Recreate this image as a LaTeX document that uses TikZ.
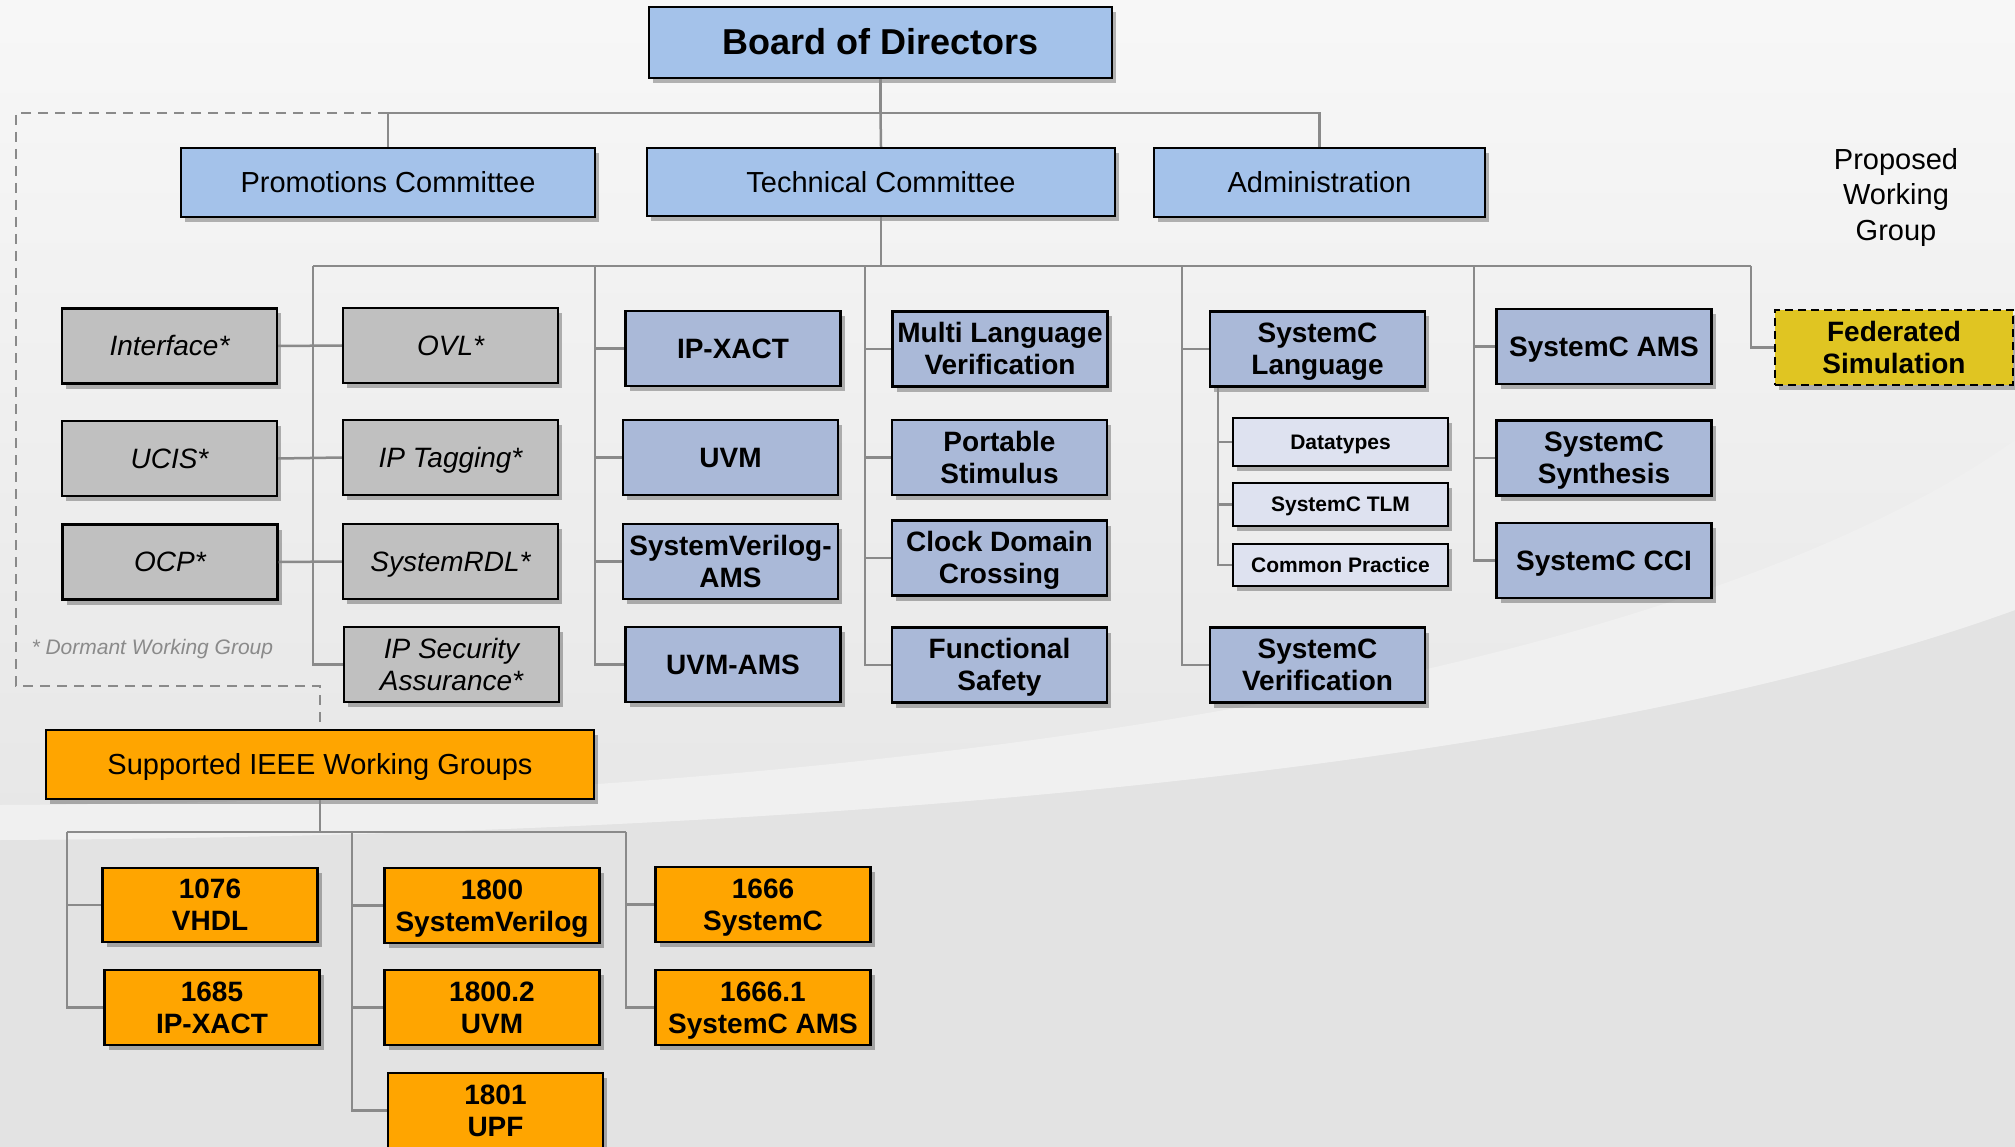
\documentclass[tikz,border=0pt]{standalone}
\usepackage{fontspec}
\setmainfont{Liberation Sans}
\usetikzlibrary{shadows}
\definecolor{topblue}{HTML}{A4C2EA}
\definecolor{techblue}{HTML}{AAB9D8}
\definecolor{dormgray}{HTML}{C0C0C0}
\definecolor{sublight}{HTML}{DEE2F0}
\definecolor{ieeeorange}{HTML}{FFA500}
\definecolor{fedyellow}{HTML}{E0C522}
\definecolor{linegray}{HTML}{8A8A8A}
\newcommand{\ms}{\rule[-5.9pt]{0pt}{31.2pt}}
\tikzset{
  box/.style={draw=black, line width=2.4pt, align=center, inner sep=0pt,
    minimum width=215pt, minimum height=75pt,
    drop shadow={shadow xshift=4pt, shadow yshift=-5pt, fill=black, opacity=0.28}},
  olA/.style={text height=25.3pt, text depth=5.9pt},
  olB/.style={text height=26.2pt, text depth=6.1pt},
  olC/.style={text height=32.6pt, text depth=7.6pt},
  olD/.style={text height=19pt, text depth=4.5pt},
  topbox/.style={box, olB, fill=topblue, font=\fontsize{29}{34}\selectfont},
  techbox/.style={box, fill=techblue, font=\bfseries\fontsize{28}{32}\selectfont},
  dormbox/.style={box, fill=dormgray, font=\itshape\fontsize{28}{32}\selectfont},
  subbox/.style={box, olD, fill=sublight, font=\bfseries\fontsize{21}{24}\selectfont},
  ieeebox/.style={box, fill=ieeeorange, font=\bfseries\fontsize{28}{32}\selectfont},
  conn/.style={draw=linegray, line width=2.5pt},
  dashconn/.style={draw=linegray, line width=2.5pt, dash pattern=on 10pt off 7pt},
}
\begin{document}
\begin{tikzpicture}[x=1pt,y=-1pt]
\useasboundingbox (0,0) rectangle (2015,1147);
\clip (0,0) rectangle (2015,1147);
% background
\shade[top color=white!97!black, bottom color=white!88!black] (0,0) rectangle (2015,1147);
\fill[white!89!black] (0,840) .. controls (900,835) and (1600,760) .. (2015,610) -- (2015,1147) -- (0,1147) -- cycle;
\fill[white!94!black] (0,840) .. controls (900,835) and (1600,760) .. (2015,610) -- (2015,440) .. controls (1750,630) and (1100,800) .. (0,805) -- cycle;

% top level
\node[topbox, olC, font=\bfseries\fontsize{36}{40}\selectfont, minimum width=463pt, minimum height=71pt] (board) at (880.5,42.5) {Board of Directors};
\node[topbox, minimum width=414pt, minimum height=69pt] (promo) at (388,182.5) {Promotions Committee};
\node[topbox, minimum width=468pt, minimum height=68pt] (tech) at (881,182) {Technical Committee};
\node[topbox, minimum width=331pt, minimum height=69pt] (admin) at (1319.5,182.5) {Administration};

\node[font=\fontsize{29}{35.5}\selectfont, align=center] (proposed) at (1896,197.5) {Proposed\\Working\\Group};

% dormant groups
\node[dormbox, olA] (interface) at (169.5,346) {Interface*};
\node[dormbox, olA] (ucis) at (169.5,458.5) {UCIS*};
\node[dormbox, olA] (ocp) at (170,562) {OCP*};
\node[dormbox, olA] (ovl) at (450.5,345.5) {OVL*};
\node[dormbox, olA] (iptag) at (450.5,457.5) {IP Tagging*};
\node[dormbox, olA] (srdl) at (450.5,561.5) {SystemRDL*};
\node[dormbox] (ipsec) at (451.5,664.5) {\ms IP Security\\Assurance*\ms};
\node[anchor=base west, font=\itshape\fontsize{21}{24}\selectfont, text=linegray] (dormant) at (28,654) {* Dormant Working Group};

% technical columns
\node[techbox, olA] (ipxact) at (733,348.5) {IP-XACT};
\node[techbox, olA] (uvm) at (730.5,457.5) {UVM};
\node[techbox] (svams) at (730.5,561.5) {\ms SystemVerilog-\\AMS\ms};
\node[techbox, olA] (uvmams) at (733,664.5) {UVM-AMS};

\node[techbox] (mlv) at (1000,349) {\ms Multi Language\\Verification\ms};
\node[techbox] (ps) at (999.5,457.5) {\ms Portable\\Stimulus\ms};
\node[techbox] (cdc) at (999.5,558) {\ms Clock Domain\\Crossing\ms};
\node[techbox] (fs) at (999.5,665) {\ms Functional\\Safety\ms};

\node[techbox] (scl) at (1317.5,349) {\ms SystemC\\Language\ms};
\node[subbox, minimum height=48pt] (dt) at (1340.5,442) {Datatypes};
\node[subbox, minimum height=43pt] (tlm) at (1340.5,504.5) {SystemC TLM};
\node[subbox, minimum height=42pt] (cp) at (1340.5,565) {Common Practice};
\node[techbox] (scv) at (1317.5,665) {\ms SystemC\\Verification\ms};

\node[techbox, olA] (scams) at (1604,346.5) {SystemC AMS};
\node[techbox] (scsyn) at (1604,458) {\ms SystemC\\Synthesis\ms};
\node[techbox, olA] (scci) at (1604,560.5) {SystemC CCI};

\node[techbox, fill=fedyellow, dash pattern=on 8pt off 5pt, minimum width=238pt] (fed) at (1894,347.5) {\ms Federated\\Simulation\ms};

% IEEE
\node[box, olB, fill=ieeeorange, font=\fontsize{29}{34}\selectfont, minimum width=548pt, minimum height=69pt] (sup) at (320,764.5) {Supported IEEE Working Groups};
\node[ieeebox, minimum height=74pt] (vhdl) at (210,905) {\ms 1076\\VHDL\ms};
\node[ieeebox] (ipx) at (212,1007.5) {\ms 1685\\IP-XACT\ms};
\node[ieeebox] (sv) at (492,905.5) {\ms 1800\\SystemVerilog\ms};
\node[ieeebox] (uvmb) at (492,1007.5) {\ms 1800.2\\UVM\ms};
\node[ieeebox] (upf) at (495.5,1110.5) {\ms 1801\\UPF\ms};
\node[ieeebox] (sc) at (763,904.5) {\ms 1666\\SystemC\ms};
\node[ieeebox] (sca) at (763,1007.5) {\ms 1666.1\\SystemC AMS\ms};

% connectors: top
\coordinate (bj) at (880.5,113);
\draw[conn] (board.south) -- (bj);
\draw[conn] (promo.north) |- (bj) -| (admin.north);
\draw[conn] (bj) -- (tech.north);
\draw[dashconn] (promo.north |- bj) -- (16,113) -- (16,686) -- (320,686) -- (sup.north);

% technical bus
\coordinate (tj) at (881,266);
\coordinate (c0) at (313,266);
\coordinate (c1) at (595,266);
\coordinate (c2) at (865,266);
\coordinate (c3) at (1182,266);
\coordinate (c4) at (1474,266);
\coordinate (c5) at (1751,266);
\draw[conn] (tech.south) -- (tj);
\draw[conn] (c0) -- (c5);

\draw[conn] (c0) |- (ipsec.west);
\draw[conn] (interface.east) -- (ovl.west);
\draw[conn] (ucis.east) -- (iptag.west);
\draw[conn] (ocp.east) -- (srdl.west);

\draw[conn] (c1) |- (uvmams.west);
\draw[conn] (ipxact.west -| c1) -- (ipxact.west);
\draw[conn] (uvm.west -| c1) -- (uvm.west);
\draw[conn] (svams.west -| c1) -- (svams.west);

\draw[conn] (c2) |- (fs.west);
\draw[conn] (mlv.west -| c2) -- (mlv.west);
\draw[conn] (ps.west -| c2) -- (ps.west);
\draw[conn] (cdc.west -| c2) -- (cdc.west);

\draw[conn] (c3) |- (scv.west);
\draw[conn] (scl.west -| c3) -- (scl.west);
\coordinate (sl) at ([xshift=9pt]scl.south west);
\draw[conn] (sl) |- (cp.west);
\draw[conn] (dt.west -| sl) -- (dt.west);
\draw[conn] (tlm.west -| sl) -- (tlm.west);

\draw[conn] (c4) |- (scci.west);
\draw[conn] (scams.west -| c4) -- (scams.west);
\draw[conn] (scsyn.west -| c4) -- (scsyn.west);

\draw[conn] (c5) |- (fed.west);

% IEEE bus
\coordinate (ij) at (320,832);
\coordinate (i0) at (67,832);
\coordinate (i1) at (352,832);
\coordinate (i2) at (626,832);
\draw[conn] (sup.south) -- (ij);
\draw[conn] (i0) -- (i2);
\draw[conn] (i0) |- (ipx.west);
\draw[conn] (vhdl.west -| i0) -- (vhdl.west);
\draw[conn] (i1) |- (upf.west);
\draw[conn] (sv.west -| i1) -- (sv.west);
\draw[conn] (uvmb.west -| i1) -- (uvmb.west);
\draw[conn] (i2) |- (sca.west);
\draw[conn] (sc.west -| i2) -- (sc.west);
\end{tikzpicture}
\end{document}
